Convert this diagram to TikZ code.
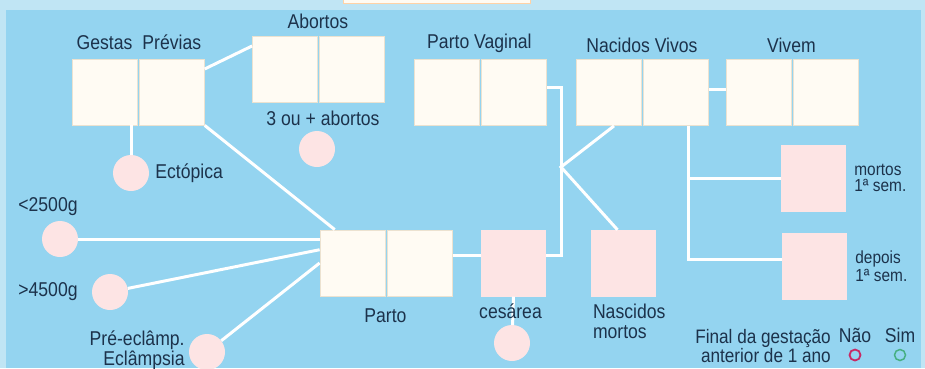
\documentclass[tikz,border=0pt]{standalone}
\usepackage{fontspec}
\setmainfont{Liberation Sans}[FakeStretch=0.88]
\usetikzlibrary{positioning}
\definecolor{panelblue}{RGB}{148,212,240}
\definecolor{frameblue}{RGB}{192,229,244}
\definecolor{cream}{RGB}{255,251,243}
\definecolor{beige}{RGB}{236,226,208}
\definecolor{rosy}{RGB}{253,228,228}
\definecolor{navy}{RGB}{28,50,75}
\definecolor{crimson}{RGB}{200,40,100}
\definecolor{mint}{RGB}{70,175,130}

\begin{document}
\begin{tikzpicture}[x=1pt, y=-1pt,
        cell/.style={rectangle, fill=cream, draw=beige, line width=0.8pt, minimum width=65pt, minimum height=66pt, inner sep=0pt},
        pinkbox/.style={rectangle, fill=rosy, minimum width=65pt, minimum height=67pt, inner sep=0pt},
        dot/.style={circle, fill=rosy, minimum size=36pt, inner sep=0pt},
        txt/.style={text=navy, inner sep=0pt, font=\fontsize{20}{20}\selectfont},
        link/.style={draw=white, line width=3pt}]
        % background
        \useasboundingbox (0,0) rectangle (925,368);
        \fill[frameblue] (0,0) rectangle (925,368);
        \fill[panelblue] (6,10) rectangle (921,368);
        \filldraw[fill=cream, draw=orange!35, line width=1pt] (343,-6) rectangle (530,3);
        % cells
        \node[cell] (gestasA) at (104.5,92) {};
        \node[cell] (gestasB) [right=1.5pt of gestasA] {};
        \node[cell] (abortosA) at (285,69) {};
        \node[cell] (abortosB) [right=1.5pt of abortosA] {};
        \node[cell] (pvA) at (446.5,92.5) {};
        \node[cell] (pvB) [right=1.5pt of pvA] {};
        \node[cell] (nvA) at (609,92.5) {};
        \node[cell] (nvB) [right=1.5pt of nvA] {};
        \node[cell] (vivemA) at (758.5,92.5) {};
        \node[cell] (vivemB) [right=1.5pt of vivemA] {};
        \node[cell] (partoA) at (352.5,263) {};
        \node[cell] (partoB) [right=1.5pt of partoA] {};
        \node[pinkbox] (cesarea) at (513.5,263) {};
        \node[pinkbox] (nm) at (623.5,263.5) {};
        \node[pinkbox] (mortos) at (813.5,178) {};
        \node[pinkbox] (depois) at (814.5,266.5) {};
        % circles
        \node[dot] (ectdot) at (131,173) {};
        \node[dot] (abdot) at (317,149) {};
        \node[dot] (lowdot) at (60,239) {};
        \node[dot] (highdot) at (110,292) {};
        \node[dot] (predot) at (207,352) {};
        \node[dot] (cesdot) at (512,343) {};
        \coordinate (fork) at (561,167);
        % connectors
        \draw[link] (gestasB.35) -- (abortosA.145);
        \draw[link] (ectdot) -- (ectdot |- gestasA.south);
        \draw[link] (gestasB.south east) -- (partoA.118);
        \draw[link] (lowdot) -- (lowdot -| partoA.west);
        \draw[link] (highdot) -- (partoA.158);
        \draw[link] (predot) -- (partoA.west);
        \draw[link] ([yshift=8pt]partoB.east) -- ([yshift=8pt]cesarea.west);
        \draw[link] ([yshift=5pt]pvB.east) -| (fork) |- ([yshift=8pt]cesarea.east);
        \draw[link] ([xshift=5pt]nvA.south) -- (fork) -- ([xshift=-6pt]nm.north);
        \draw[link] ([yshift=3pt]nvB.east) -- ([yshift=3pt]vivemA.west);
        \draw[link] ([xshift=12pt]nvB.south) coordinate (trunk) |- ([yshift=7pt]depois.west);
        \draw[link] (mortos.west) -- (mortos.west -| trunk);
        \draw[link] (cesarea.south) -- (cesdot);
        % labels
        \node[txt, above=9pt of gestasA] (gestaslbl) {Gestas};
        \node[txt, above=9pt of gestasB] (previaslbl) {Prévias};
        \node[txt, above=7pt of abortosA.north east] (abortoslbl) {Abortos};
        \node[txt, above=6pt of pvA.north east] (pvlbl) {Parto Vaginal};
        \node[txt, above=6pt of nvA.north east] (nvlbl) {Nacidos Vivos};
        \node[txt, above=6pt of vivemA.north east] (vivemlbl) {Vivem};
        \node[txt, above=5pt of abdot, xshift=6pt] (tresabl) {3 ou + abortos};
        \node[txt, right=6pt of ectdot] (ectlbl) {Ectópica};
        \node[txt, above=5pt of lowdot, xshift=-12pt] (lowlbl) {<2500g};
        \node[txt, left=14pt of highdot] (highlbl) {>4500g};
        \node[txt, left=4pt of predot, yshift=2pt, align=right] (prelbl) {Pré-eclâmp.\\Eclâmpsia};
        \node[txt, below=12pt of partoA.south east] (partolbl) {Parto};
        \node[txt, below=7pt of cesarea, xshift=-3pt] (ceslbl) {cesárea};
        \node[txt, below right=7pt and 2pt of nm.south west, align=left] (nmlbl) {Nascidos\\mortos};
        \node[txt, right=8pt of mortos, align=left, font=\fontsize{17.5}{16}\selectfont] (mortoslbl) {mortos\\1ª sem.};
        \node[txt, right=8pt of depois, align=left, font=\fontsize{17.5}{18}\selectfont] (depoislbl) {depois\\1ª sem.};
        % legend
        \node[txt, align=right, anchor=east, font=\fontsize{19.5}{18}\selectfont] (finallbl) at (831,346) {Final da gestação\\anterior de 1 ano};
        \node[txt] (naolbl) at (855,335) {Não};
        \node[txt] (simlbl) at (900,335) {Sim};
        \node[circle, draw=crimson, line width=1.8pt, minimum size=11pt, inner sep=0pt] (naodot) at (855,355) {};
        \node[circle, draw=mint, line width=1.5pt, minimum size=11pt, inner sep=0pt] (simdot) at (900,355) {};
\end{tikzpicture}
\end{document}
